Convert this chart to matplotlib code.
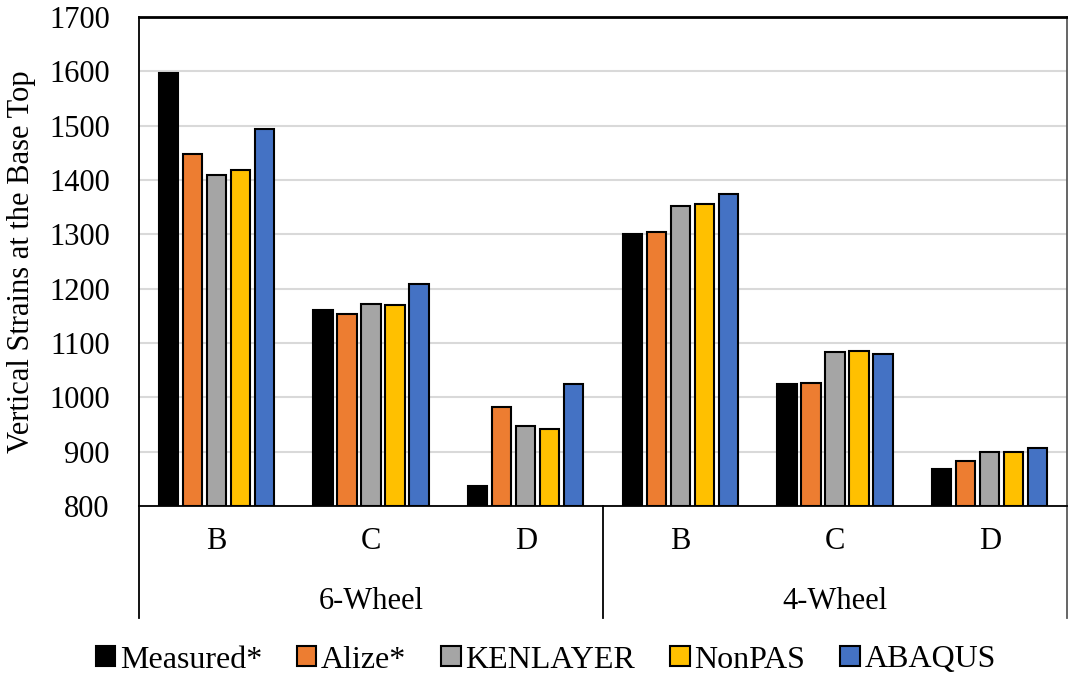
import matplotlib.pyplot as plt
import matplotlib.transforms as mtransforms
import numpy as np

plt.rcParams['font.family'] = ['Liberation Serif', 'DejaVu Serif']

sections = ["B", "C", "D", "B", "C", "D"]
groups = ["6-Wheel", "4-Wheel"]
series = ["Measured*", "Alize*", "KENLAYER", "NonPAS", "ABAQUS"]
colors = ["#000000", "#ED7D31", "#A5A5A5", "#FFC000", "#4472C4"]

measured = [1597, 1160, 837, 1301, 1025, 869]
alize = [1448, 1154, 982, 1304, 1026, 882]
kenlayer = [1410, 1171, 947, 1352, 1084, 900]
nonpas = [1419, 1170, 942, 1356, 1086, 900]
abaqus = [1493, 1208, 1025, 1374, 1079, 906]
values = [measured, alize, kenlayer, nonpas, abaqus]

yticks = [800, 900, 1000, 1100, 1200, 1300, 1400, 1500, 1600, 1700]

fig = plt.figure(figsize=(10.68, 6.77), dpi=100)
ax = fig.add_axes([139/1068, 1-506/677, 928/1068, 489/677])

x = np.arange(len(sections))
pitch = 0.155
width = 0.126
for i, (name, vals, c) in enumerate(zip(series, values, colors)):
    ax.bar(x + (i-2)*pitch, np.array(vals) - 800, width, bottom=800,
           color=c, edgecolor="black", linewidth=1.5, label=name, zorder=3)

ax.set_xlim(-0.5, 5.5)
ax.set_ylim(800, 1700)
ax.set_yticks(yticks)
ax.yaxis.grid(True, color="#D9D9D9", linewidth=1.5, zorder=0)
ax.tick_params(axis="y", length=0, pad=21, labelsize=22)
ax.set_xticks([])
ax.spines["right"].set_visible(False)
for s in ["left", "top", "bottom"]:
    ax.spines[s].set_linewidth(1.3)
ax.spines["top"].set_linewidth(2)

trans = mtransforms.blended_transform_factory(ax.transData, ax.transAxes)
for xi, lab in zip(x, sections):
    ax.text(xi, -0.0716, lab, transform=trans, ha="center", va="center", fontsize=22)
for gi, g in enumerate(groups):
    ax.text(gi*3 + 1, -0.196, g, transform=trans, ha="center", va="center", fontsize=22)
for xs in [-0.5, 2.5]:
    ax.plot([xs, xs], [0, -0.229], transform=trans, color="black", linewidth=1.3,
            clip_on=False)
ax.plot([5.5, 5.5], [1, -0.229], transform=trans, color="#595959", linewidth=1.3,
        clip_on=False)

fig.text(22/1068, 1-262/677, "Vertical Strains at the Base Top", rotation=90,
         ha="center", va="center", fontsize=22)

fig.legend(loc="center", bbox_to_anchor=(0.511, 1-660/677), ncol=5, frameon=False,
           fontsize=23, handlelength=0.6, handleheight=0.6, handletextpad=0.15,
           columnspacing=1.1)

fig.savefig("out.png", dpi=100)
